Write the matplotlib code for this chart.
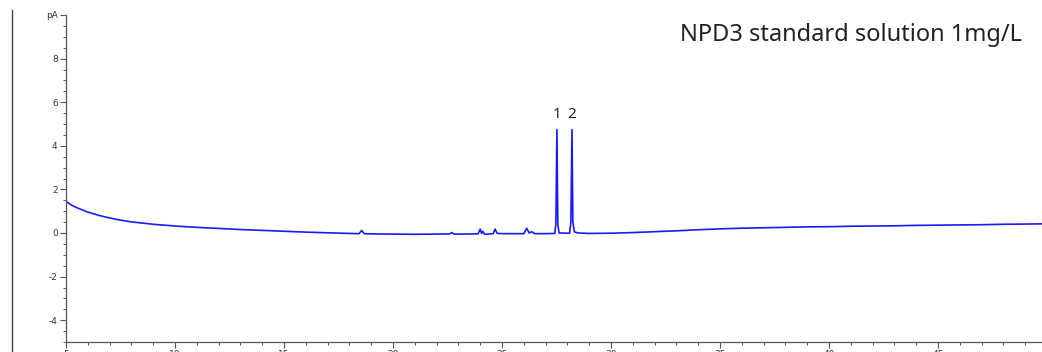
import matplotlib
matplotlib.use("Agg")
import matplotlib.pyplot as plt
from matplotlib.lines import Line2D
from matplotlib.ticker import MultipleLocator

# chromatogram trace (time in min, signal in pA)
time_min = [5.0, 5.25, 5.5, 6.0, 6.5, 7.0, 7.5, 8.0, 9.0, 10.0, 11.0, 12.0,
            13.0, 14.0, 15.0, 16.0, 17.0, 18.0, 18.45, 18.56, 18.68, 19.0,
            20.0, 21.0, 22.0, 22.6, 22.7, 22.8, 23.0, 23.9, 24.0, 24.06,
            24.12, 24.2, 24.6, 24.68, 24.78, 25.0, 26.0, 26.13, 26.25, 26.36,
            26.5, 27.0, 27.42, 27.47, 27.52, 27.56, 27.62, 28.1, 28.16,
            28.21, 28.25, 28.32, 28.5, 29.0, 30.0, 31.0, 32.0, 33.0, 34.0,
            35.0, 36.0, 37.0, 38.0, 39.0, 40.0, 41.0, 42.0, 43.0, 44.0, 45.0,
            46.0, 47.0, 48.0, 49.0, 49.8]
signal_pa = [1.45, 1.28, 1.16, 0.96, 0.81, 0.69, 0.59, 0.51, 0.40, 0.32,
             0.26, 0.21, 0.16, 0.12, 0.08, 0.04, 0.01, -0.02, -0.03, 0.12,
             -0.03, -0.04, -0.05, -0.06, -0.05, -0.04, 0.02, -0.05, -0.05,
             -0.04, 0.18, -0.02, 0.08, -0.06, -0.03, 0.18, -0.02, -0.03,
             -0.03, 0.22, 0.0, 0.06, -0.03, -0.03, -0.02, 0.4, 4.74, 0.4,
             0.0, -0.01, 0.5, 4.74, 0.5, 0.05, 0.0, -0.02, -0.01, 0.02, 0.06,
             0.10, 0.15, 0.19, 0.22, 0.24, 0.26, 0.28, 0.29, 0.31, 0.32,
             0.33, 0.35, 0.36, 0.37, 0.38, 0.40, 0.41, 0.42]

peak_labels = ["1", "2"]
peak_times = [27.52, 28.21]
peak_heights = [4.74, 4.74]

x_ticks = [5, 10, 15, 20, 25, 30, 35, 40, 45]
y_ticks = [-4, -2, 0, 2, 4, 6, 8, 10]
y_tick_labels = ["-4", "-2", "0", "2", "4", "6", "8", "pA"]

title = "NPD3 standard solution 1mg/L"

W, H = 1042, 352
fig = plt.figure(figsize=(W / 100, H / 100), dpi=100)
ax = fig.add_axes([66 / W, 10 / H, 1 - 66 / W, 327 / H])

ax.plot(time_min, signal_pa, color="#1a1aff", lw=1.2)

for lab, t, h in zip(peak_labels, peak_times, peak_heights):
    ax.text(t, h + 0.35, lab, ha="center", va="bottom", fontsize=11,
            family="Noto Sans", color="#222222")

ax.set_xlim(5, 49.77)
ax.set_ylim(-5, 10)
ax.set_xticks(x_ticks)
ax.set_xticklabels([str(v) for v in x_ticks])
ax.set_yticks(y_ticks)
ax.set_yticklabels(y_tick_labels)
ax.xaxis.set_minor_locator(MultipleLocator(1))
ax.yaxis.set_minor_locator(MultipleLocator(0.5))

for side in ["top", "right"]:
    ax.spines[side].set_visible(False)
for side in ["left", "bottom"]:
    ax.spines[side].set_color("#555555")
    ax.spines[side].set_linewidth(0.9)

ax.tick_params(which="major", length=4, width=0.8, color="#555555",
               labelsize=6.5, labelcolor="#333333", pad=2)
ax.tick_params(which="minor", length=2, width=0.7, color="#555555")

ax.text(49.8, -5.55, "min", ha="center", va="top", fontsize=6.5,
        color="#333333", clip_on=False)

ax.text(0.9795, 0.94, title, transform=ax.transAxes, ha="right", va="center",
        fontsize=17, family="Noto Sans", color="#222222")

# left frame line
fig.add_artist(Line2D([12 / W, 12 / W], [0, 1 - 10 / H], color="#444444",
                      lw=1.0, transform=fig.transFigure))

fig.savefig("out.png", dpi=100)
